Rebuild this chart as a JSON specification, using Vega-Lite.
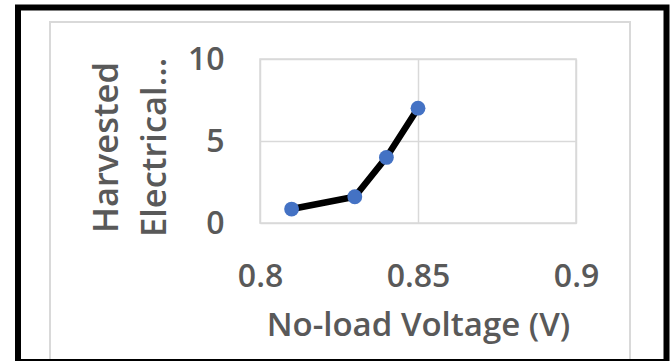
{
  "$schema": "https://vega.github.io/schema/vega-lite/v6.json",
  "width": 316,
  "height": 164,
  "autosize": "none",
  "padding": {"left": 260, "top": 59, "right": 94, "bottom": 138},
  "background": "white",
  "config": {
    "font": "Open Sans",
    "view": {"stroke": "#d9d9d9", "strokeWidth": 1.5},
    "axis": {
      "labelFont": "Open Sans",
      "titleFont": "Open Sans",
      "labelColor": "#595959",
      "titleColor": "#595959",
      "labelFontWeight": 600,
      "titleFontWeight": 600,
      "gridColor": "#d9d9d9",
      "gridWidth": 1.5,
      "domainColor": "#d9d9d9",
      "ticks": false
    }
  },
  "datasets": {
    "series": [
      {"voltage": 0.81, "power": 0.85},
      {"voltage": 0.83, "power": 1.6},
      {"voltage": 0.84, "power": 4.0},
      {"voltage": 0.85, "power": 7.0}
    ]
  },
  "layer": [
    {
      "data": {"values": [{}]},
      "mark": {"type": "rect", "fill": null, "stroke": "#d9d9d9", "strokeWidth": 2},
      "encoding": {
        "x": {"value": -210},
        "x2": {"value": 370},
        "y": {"value": -37},
        "y2": {"value": 330}
      }
    },
    {
      "data": {"values": [{}]},
      "mark": {"type": "rect", "fill": null, "stroke": "black", "strokeWidth": 6},
      "encoding": {
        "x": {"value": -242},
        "x2": {"value": 406.5},
        "y": {"value": -51.5},
        "y2": {"value": 303}
      }
    },
    {
      "data": {"name": "series"},
      "mark": {"type": "line", "color": "black", "strokeWidth": 6.5},
      "encoding": {
        "x": {
          "field": "voltage",
          "type": "quantitative",
          "scale": {"domain": [0.8, 0.9], "nice": false, "zero": false},
          "axis": {
            "title": "No-load Voltage (V)",
            "values": [0.8, 0.85, 0.9],
            "format": ".2~f",
            "labelFontSize": 32,
            "titleFontSize": 33,
            "labelPadding": 38,
            "titlePadding": 17,
            "labelFlush": false
          }
        },
        "y": {
          "field": "power",
          "type": "quantitative",
          "scale": {"domain": [0, 10], "nice": false},
          "axis": {
            "title": ["Harvested", "Electrical..."],
            "values": [0, 5, 10],
            "labelFontSize": 32,
            "titleFontSize": 34.5,
            "titleLineHeight": 48,
            "titleY": 88,
            "labelPadding": 36,
            "titlePadding": 15,
            "domain": false
          }
        }
      }
    },
    {
      "data": {"name": "series"},
      "mark": {"type": "point", "filled": true, "color": "#4472C4", "opacity": 1, "size": 220},
      "encoding": {
        "x": {"field": "voltage", "type": "quantitative"},
        "y": {"field": "power", "type": "quantitative"}
      }
    }
  ]
}
